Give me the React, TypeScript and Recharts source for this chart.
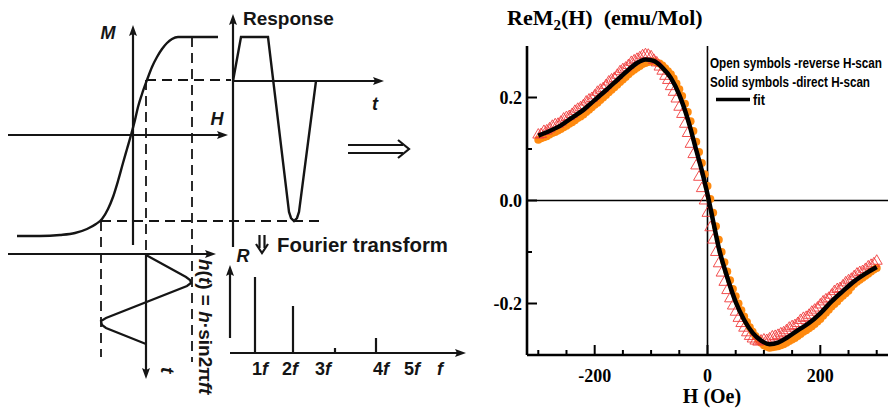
import React from "react";
import { ComposedChart, Line, Scatter, XAxis, YAxis, ReferenceLine } from "recharts";

const INK = "#151515";
const sans = "'Liberation Sans', Arial, Helvetica, sans-serif";
const serif = "'Liberation Serif', 'Times New Roman', Times, serif";

// ---------- left schematic (diagram units: 0..480 across, 0..417 down) ----------
type Pt = { x: number; y: number };

// M(H) magnetisation curve
const mhCurve: Pt[] = [
  { x: 17, y: 236 }, { x: 40, y: 236 }, { x: 60, y: 235 }, { x: 75, y: 233 }, { x: 87, y: 229 },
  { x: 96, y: 224 }, { x: 102, y: 219 }, { x: 108, y: 209 }, { x: 113, y: 197 }, { x: 118, y: 181 },
  { x: 123, y: 163 }, { x: 127, y: 149 }, { x: 131, y: 135 }, { x: 135, y: 120 }, { x: 138, y: 107 },
  { x: 142, y: 94 }, { x: 147, y: 80 }, { x: 152, y: 67 }, { x: 157, y: 57 }, { x: 162, y: 49 },
  { x: 167, y: 43 }, { x: 172, y: 39 }, { x: 178, y: 37 }, { x: 218, y: 37 },
];

// response vs t
const responseWave: Pt[] = [
  { x: 233, y: 81 }, { x: 241, y: 37 }, { x: 268, y: 37 }, { x: 289, y: 212 }, { x: 291, y: 218 },
  { x: 294, y: 221 }, { x: 297, y: 218 }, { x: 299, y: 212 }, { x: 316, y: 81 },
];

// drive field h(t), time running downwards
const driveWave: Pt[] = [
  { x: 146, y: 255 }, { x: 186, y: 277 }, { x: 190, y: 280 }, { x: 191, y: 283 }, { x: 187, y: 286 },
  { x: 106, y: 318 }, { x: 101, y: 321 }, { x: 102, y: 325 }, { x: 106, y: 328 }, { x: 146, y: 344 },
];

// Fourier spectrum: line positions and tops
const specF = [255, 293, 335, 376];
const specTop = [277, 306, 348, 338];
const specBase = 353;

const axisSegments: Pt[][] = [
  [{ x: 8, y: 135 }, { x: 224, y: 135 }],
  [{ x: 133, y: 245 }, { x: 133, y: 30 }],
  [{ x: 233, y: 247 }, { x: 233, y: 19 }],
  [{ x: 233, y: 81 }, { x: 379, y: 81 }],
  [{ x: 8, y: 254 }, { x: 212, y: 254 }],
  [{ x: 146, y: 254 }, { x: 146, y: 374 }],
  [{ x: 230, y: 338 }, { x: 230, y: 270 }],
  [{ x: 230, y: 353 }, { x: 461, y: 353 }],
  // double arrows
  [{ x: 348, y: 145 }, { x: 403, y: 145 }],
  [{ x: 348, y: 153 }, { x: 403, y: 153 }],
  [{ x: 398, y: 140 }, { x: 409, y: 149 }, { x: 398, y: 158 }],
  [{ x: 259.5, y: 235 }, { x: 259.5, y: 248 }],
  [{ x: 264.5, y: 235 }, { x: 264.5, y: 248 }],
  [{ x: 256, y: 244 }, { x: 262, y: 253 }, { x: 268, y: 244 }],
];

const dashedGuides: Pt[][] = [
  [{ x: 146, y: 80 }, { x: 231, y: 80 }],
  [{ x: 101, y: 221 }, { x: 320, y: 221 }],
  [{ x: 101, y: 221 }, { x: 101, y: 357 }],
  [{ x: 146, y: 80 }, { x: 146, y: 253 }],
  [{ x: 192, y: 37 }, { x: 192, y: 362 }],
];

const arrowTips = [
  { x: 228, y: 135, dir: "right" },
  { x: 133, y: 25, dir: "up" },
  { x: 233, y: 14, dir: "up" },
  { x: 384, y: 81, dir: "right" },
  { x: 216, y: 254, dir: "right" },
  { x: 146, y: 379, dir: "down" },
  { x: 230, y: 265, dir: "up" },
  { x: 466, y: 353, dir: "right" },
];

type Lbl = { x: number; y: number; kind: string; parts: [string, boolean][] };
const schematicLabels: Lbl[] = [
  { x: 108, y: 39, kind: "axis", parts: [["M", true]] },
  { x: 217, y: 125, kind: "axis", parts: [["H", true]] },
  { x: 375, y: 110, kind: "axis", parts: [["t", true]] },
  { x: 243, y: 262, kind: "axis", parts: [["R", true]] },
  { x: 243, y: 25, kind: "title", parts: [["Response", false]] },
  { x: 277, y: 252, kind: "caption", parts: [["Fourier transform", false]] },
  { x: 252, y: 375, kind: "tick", parts: [["1", false], ["f", true]] },
  { x: 282, y: 375, kind: "tick", parts: [["2", false], ["f", true]] },
  { x: 315, y: 375, kind: "tick", parts: [["3", false], ["f", true]] },
  { x: 373, y: 375, kind: "tick", parts: [["4", false], ["f", true]] },
  { x: 404, y: 375, kind: "tick", parts: [["5", false], ["f", true]] },
  { x: 437, y: 375, kind: "tick", parts: [["f", true]] },
  { x: 199, y: 259, kind: "rot", parts: [["h", true], ["(", false], ["t", true], [") = ", false], ["h", true], ["·sin2π", false], ["ft", true]] },
  { x: 161, y: 367, kind: "rot", parts: [["t", true]] },
];

const labelStyle: Record<string, { size: number; weight: number; anchor: string; rotate?: boolean; length?: number }> = {
  axis: { size: 18, weight: 700, anchor: "middle" },
  title: { size: 19, weight: 700, anchor: "start" },
  caption: { size: 21, weight: 700, anchor: "start", length: 171 },
  tick: { size: 18, weight: 700, anchor: "start" },
  rot: { size: 19, weight: 700, anchor: "start", rotate: true },
};

// ---------- right chart: ReM2(H) ----------
const fitH = [-300, -280, -260, -240, -220, -200, -180, -160, -140, -125, -110, -95, -80, -65, -50, -35, -20, -10, 0,
  10, 20, 35, 50, 65, 80, 95, 110, 125, 140, 160, 180, 200, 220, 240, 260, 280, 300];
const fitM = [0.126, 0.135, 0.146, 0.161, 0.176, 0.195, 0.214, 0.234, 0.254, 0.267, 0.274, 0.271, 0.258, 0.238, 0.205, 0.158, 0.098, 0.058, 0.012,
  -0.04, -0.092, -0.149, -0.197, -0.232, -0.257, -0.272, -0.279, -0.276, -0.267, -0.252, -0.238, -0.219, -0.196, -0.176, -0.157, -0.142, -0.129];

const scanH = [
  -300, -295, -290, -285, -280, -275, -270, -265, -260, -255, -250, -245, -240, -235, -230, -225, -220, -215,
  -210, -205, -200, -195, -190, -185, -180, -175, -170, -165, -160, -155, -150, -145, -140, -135, -130, -125,
  -120, -115, -110, -105, -100, -95, -90, -85, -80, -75, -70, -65, -60, -55, -50, -45, -40, -35, -30, -25, -20, -15, -10, -5,
  0, 5, 10, 15, 20, 25, 30, 35, 40, 45, 50, 55, 60, 65, 70, 75, 80, 85, 90, 95, 100, 105, 110, 115, 120,
  125, 130, 135, 140, 145, 150, 155, 160, 165, 170, 175, 180, 185, 190, 195, 200, 205, 210,
  215, 220, 225, 230, 235, 240, 245, 250, 255, 260, 265, 270, 275, 280, 285, 290, 295, 300,
];
// open symbols: reverse H-scan
const reverseM = [
  0.13, 0.131, 0.137, 0.138, 0.142, 0.147, 0.15, 0.151, 0.155, 0.161, 0.164, 0.166, 0.17, 0.176, 0.18, 0.183, 0.187, 0.194,
  0.198, 0.201, 0.206, 0.213, 0.217, 0.22, 0.226, 0.233, 0.237, 0.24, 0.246, 0.253, 0.257, 0.26, 0.265, 0.271, 0.274, 0.277,
  0.28, 0.284, 0.286, 0.285, 0.282, 0.275, 0.27, 0.262, 0.254, 0.244, 0.236, 0.224, 0.213, 0.2, 0.184, 0.17, 0.151, 0.133, 0.112, 0.092, 0.07, 0.048, 0.026, 0.002,
  -0.022, -0.05, -0.074, -0.098, -0.12, -0.138, -0.156, -0.172, -0.188, -0.202, -0.214, -0.226, -0.236, -0.245, -0.254, -0.261, -0.266, -0.27, -0.272, -0.27, -0.268, -0.269, -0.266, -0.262, -0.261,
  -0.259, -0.256, -0.254, -0.25, -0.245, -0.242, -0.24, -0.236, -0.23, -0.226, -0.224, -0.22, -0.214, -0.21, -0.206, -0.2, -0.194, -0.19,
  -0.187, -0.181, -0.174, -0.17, -0.168, -0.163, -0.157, -0.153, -0.15, -0.145, -0.14, -0.137, -0.135, -0.131, -0.126, -0.123, -0.12, -0.115,
];
// solid symbols: direct H-scan
const directM = [
  0.118, 0.121, 0.123, 0.125, 0.128, 0.131, 0.133, 0.136, 0.139, 0.142, 0.145, 0.149, 0.152, 0.156, 0.16, 0.163, 0.167, 0.172,
  0.176, 0.181, 0.186, 0.19, 0.195, 0.2, 0.205, 0.21, 0.215, 0.22, 0.225, 0.23, 0.235, 0.24, 0.245, 0.25, 0.254, 0.258,
  0.261, 0.265, 0.267, 0.269, 0.27, 0.27, 0.268, 0.266, 0.262, 0.257, 0.251, 0.245, 0.237, 0.227, 0.216, 0.203, 0.188, 0.172, 0.154, 0.135, 0.114, 0.094, 0.073, 0.051,
  0.028, 0.003, -0.024, -0.05, -0.076, -0.1, -0.12, -0.138, -0.155, -0.172, -0.186, -0.2, -0.213, -0.225, -0.236, -0.246, -0.255, -0.263, -0.27, -0.276, -0.281, -0.284, -0.286, -0.285, -0.284,
  -0.283, -0.281, -0.279, -0.276, -0.273, -0.27, -0.267, -0.263, -0.259, -0.255, -0.252, -0.248, -0.244, -0.24, -0.235, -0.23, -0.224, -0.218,
  -0.212, -0.206, -0.201, -0.196, -0.19, -0.185, -0.18, -0.175, -0.168, -0.162, -0.158, -0.154, -0.15, -0.146, -0.142, -0.138, -0.134, -0.131,
];

const hTicks = [-300, -250, -200, -150, -100, -50, 0, 50, 100, 150, 200, 250, 300];
const mTicks = [-0.2, -0.1, 0, 0.1, 0.2];

const PL = 87; // plot left inside right chart
const PB = 355; // plot bottom

const ArrowHead = (p: any) => {
  const { cx, cy } = p;
  const rot = ({ right: 0, down: 90, left: 180, up: -90 } as any)[p.payload.dir];
  return (
    <path
      d={`M${cx},${cy} L${cx - 11},${cy - 4} L${cx - 9},${cy} L${cx - 11},${cy + 4} Z`}
      transform={`rotate(${rot} ${cx} ${cy})`}
      fill={INK}
    />
  );
};

const LabelMark = (p: any) => {
  const d: Lbl = p.payload;
  const st = labelStyle[d.kind];
  return (
    <text
      x={p.cx}
      y={p.cy}
      textAnchor={st.anchor as any}
      fontFamily={sans}
      fontSize={st.size}
      fontWeight={st.weight}
      fill={INK}
      style={{ whiteSpace: "pre" }}
      textLength={st.length}
      lengthAdjust={st.length ? "spacingAndGlyphs" : undefined}
      transform={st.rotate ? `rotate(90 ${p.cx} ${p.cy})` : undefined}
    >
      {d.parts.map(([s, it], i) => (
        <tspan key={i} fontStyle={it ? "italic" : "normal"}>{s}</tspan>
      ))}
    </text>
  );
};

const seg = (key: string, pts: Pt[], extra: any = {}) => (
  <Line
    key={key}
    data={pts}
    dataKey="y"
    type="linear"
    stroke={INK}
    strokeWidth={2.2}
    dot={false}
    activeDot={false}
    isAnimationActive={false}
    {...extra}
  />
);

function Schematic() {
  return (
    <ComposedChart width={480} height={417} margin={{ top: 0, right: 0, bottom: 0, left: 0 }}>
      <XAxis type="number" dataKey="x" domain={[0, 480]} allowDataOverflow hide />
      <YAxis type="number" dataKey="y" domain={[0, 417]} allowDataOverflow reversed hide />
      {dashedGuides.map((pts, i) => seg(`d${i}`, pts, { strokeDasharray: "10 6", strokeWidth: 1.8 }))}
      {axisSegments.map((pts, i) => seg(`a${i}`, pts))}
      {seg("mh", mhCurve, { type: "monotone", strokeWidth: 2.4 })}
      {seg("resp", responseWave, { strokeWidth: 2.4 })}
      {seg("drive", driveWave, { strokeWidth: 2.2 })}
      {specF.map((f, i) =>
        seg(`s${i}`, [{ x: f, y: specBase }, { x: f, y: specTop[i] }], { strokeWidth: 2.2 })
      )}
      <Scatter data={arrowTips} dataKey="y" shape={ArrowHead} isAnimationActive={false} />
      <Scatter data={schematicLabels} dataKey="y" shape={LabelMark} isAnimationActive={false} />
    </ComposedChart>
  );
}

const XTick = (p: any) => {
  const v = p.payload.value;
  const major = v % 200 === 0;
  return (
    <g>
      <line x1={p.x} x2={p.x} y1={PB} y2={PB - (major ? 10 : 5)} stroke="#000" strokeWidth={2} />
      {major && (
        <text x={p.x} y={PB + 27} textAnchor="middle" fontFamily={serif} fontWeight="bold" fontSize={18} fill="#000">
          {v}
        </text>
      )}
    </g>
  );
};

const YTick = (p: any) => {
  const v = p.payload.value;
  const major = Math.abs(Math.round(v * 10)) % 2 === 0;
  return (
    <g>
      <line x1={PL} x2={PL + (major ? 10 : 5)} y1={p.y} y2={p.y} stroke="#000" strokeWidth={2} />
      {major && (
        <text x={PL - 5} y={p.y + 6} textAnchor="end" fontFamily={serif} fontWeight="bold" fontSize={18} fill="#000">
          {v.toFixed(1)}
        </text>
      )}
    </g>
  );
};

const OpenTriangle = (p: any) => (
  <path
    d={`M${p.cx},${p.cy - 5} L${p.cx + 5.5},${p.cy + 4.5} L${p.cx - 5.5},${p.cy + 4.5} Z`}
    fill="none"
    stroke="#f03c3c"
    strokeWidth={0.9}
  />
);

const SolidDot = (p: any) => <circle cx={p.cx} cy={p.cy} r={4} fill="#ff8a0f" />;

function MagnetChart() {
  const fit = fitH.map((h, i) => ({ h, m: fitM[i] }));
  const reverse = scanH.map((h, i) => ({ h, m: reverseM[i] }));
  const direct = scanH.map((h, i) => ({ h, m: directM[i] }));
  return (
    <ComposedChart width={449} height={417} margin={{ top: 46, right: 1, bottom: 0, left: 0 }}>
      <XAxis
        type="number"
        dataKey="h"
        domain={[-320, 320]}
        allowDataOverflow
        ticks={hTicks}
        interval={0}
        height={62}
        tick={XTick}
        tickLine={false}
        axisLine={{ stroke: "#000", strokeWidth: 2.6 }}
      />
      <XAxis
        xAxisId="top"
        orientation="top"
        type="number"
        dataKey="h"
        domain={[-320, 320]}
        allowDataOverflow
        height={0}
        tick={false}
        tickLine={false}
        axisLine={{ stroke: "#000", strokeWidth: 2 }}
      />
      <YAxis
        type="number"
        dataKey="m"
        domain={[-0.3, 0.3]}
        allowDataOverflow
        ticks={mTicks}
        interval={0}
        width={PL}
        tick={YTick}
        tickLine={false}
        axisLine={{ stroke: "#000", strokeWidth: 2.6 }}
      />
      <YAxis
        yAxisId="right"
        orientation="right"
        type="number"
        dataKey="m"
        domain={[-0.3, 0.3]}
        allowDataOverflow
        width={0}
        tick={false}
        tickLine={false}
        axisLine={{ stroke: "#000", strokeWidth: 2 }}
      />
      <ReferenceLine x={0} stroke="#000" strokeWidth={1.6} />
      <ReferenceLine y={0} stroke="#000" strokeWidth={1.6} />
      <Scatter data={direct} dataKey="m" shape={SolidDot} isAnimationActive={false} />
      <Scatter data={reverse} dataKey="m" shape={OpenTriangle} isAnimationActive={false} />
      <Line
        data={fit}
        dataKey="m"
        type="monotone"
        stroke="#000"
        strokeWidth={4.5}
        dot={false}
        activeDot={false}
        isAnimationActive={false}
        {...({ zIndex: 700 } as any)}
      />
    </ComposedChart>
  );
}

export default function App() {
  return (
    <div style={{ position: "absolute", left: 0, top: 0, width: 889, height: 417, background: "#fff", overflow: "hidden" }}>
      <div style={{ position: "absolute", left: 0, top: 0 }}>
        <Schematic />
      </div>
      <div style={{ position: "absolute", left: 440, top: 0 }}>
        <MagnetChart />
      </div>
      <svg width={889} height={417} style={{ position: "absolute", left: 0, top: 0, pointerEvents: "none" }}>
        <text x={507} y={25} fontFamily={serif} fontWeight="bold" fontSize={22} fill="#000">
          ReM
          <tspan fontSize={15} dy={5}>2</tspan>
          <tspan dy={-5}>(H)</tspan>
          <tspan dx={11}>(emu/Mol)</tspan>
        </text>
        <text x={712} y={403} textAnchor="middle" fontFamily={serif} fontWeight="bold" fontSize={20} fill="#000">
          H (Oe)
        </text>
        <g fontFamily={sans} fontWeight="bold" fontSize={15} fill="#000">
          <text x={710} y={68} textLength={172} lengthAdjust="spacingAndGlyphs">Open symbols -reverse H-scan</text>
          <text x={710} y={87} textLength={160} lengthAdjust="spacingAndGlyphs">Solid symbols -direct H-scan</text>
          <line x1={716} x2={750} y1={99.5} y2={99.5} stroke="#000" strokeWidth={3.5} />
          <text x={753} y={105} textLength={12} lengthAdjust="spacingAndGlyphs">fit</text>
        </g>
      </svg>
    </div>
  );
}
